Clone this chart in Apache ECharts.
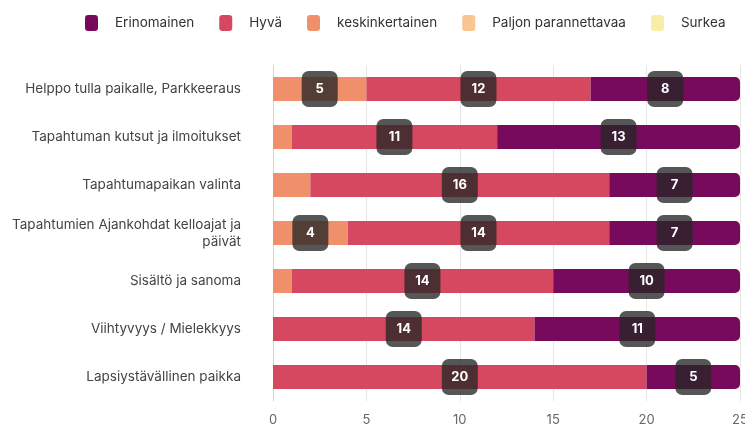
<!DOCTYPE html>
<html>
<head>
<meta charset="utf-8">
<script src="https://cdn.jsdelivr.net/npm/echarts@6/dist/echarts.min.js"></script>
<style>
  html, body { margin: 0; padding: 0; background: #fff; }
  #chart-container { width: 745px; height: 426px; }
</style>
</head>
<body>
<div id="chart-container"></div>
<script>
var dom = document.getElementById('chart-container');
var myChart = echarts.init(dom, null, { renderer: 'canvas' });

var categories = [
  'Helppo tulla paikalle, Parkkeeraus',
  'Tapahtuman kutsut ja ilmoitukset',
  'Tapahtumapaikan valinta',
  'Tapahtumien Ajankohdat kelloajat ja\npäivät',
  'Sisältö ja sanoma',
  'Viihtyvyys / Mielekkyys',
  'Lapsiystävällinen paikka'
];
var surkea = [0, 0, 0, 0, 0, 0, 0];
var paljonParannettavaa = [0, 0, 0, 0, 0, 0, 0];
var keskinkertainen = [5, 1, 2, 4, 1, 0, 0];
var hyva = [12, 11, 16, 14, 14, 14, 20];
var erinomainen = [8, 13, 7, 7, 10, 11, 5];
var xTicks = [0, 5, 10, 15, 20, 25];

var seriesDefs = [
  { name: 'Surkea', data: surkea, color: '#f7eda4' },
  { name: 'Paljon parannettavaa', data: paljonParannettavaa, color: '#f9c590' },
  { name: 'keskinkertainen', data: keskinkertainen, color: '#f0906b' },
  { name: 'Hyvä', data: hyva, color: '#d6485f' },
  { name: 'Erinomainen', data: erinomainen, color: '#780a5c' }
];

var series = seriesDefs.map(function (s, idx) {
  var last = idx === seriesDefs.length - 1;
  return {
    name: s.name,
    type: 'bar',
    stack: 'total',
    barWidth: 24,
    itemStyle: {
      color: s.color,
      borderRadius: last ? [0, 5, 5, 0] : 0
    },
    emphasis: { disabled: true },
    label: {
      show: true,
      position: 'inside',
      color: '#fff',
      fontFamily: 'Inter',
      fontWeight: 'bold',
      fontSize: 13,
      backgroundColor: 'rgba(38,38,38,0.78)',
      borderRadius: 7,
      width: 20,
      height: 20,
      lineHeight: 20,
      align: 'center',
      verticalAlign: 'middle',
      padding: [8, 8]
    },
    data: s.data.map(function (v) {
      return { value: v, label: { show: v >= 3 } };
    })
  };
});

var option = {
  textStyle: { fontFamily: 'Inter' },
  legend: {
    data: ['Erinomainen', 'Hyvä', 'keskinkertainen', 'Paljon parannettavaa', 'Surkea'],
    left: 80,
    top: 10,
    icon: 'roundRect',
    itemWidth: 13,
    itemHeight: 16,
    itemGap: 25,
    textStyle: { color: '#333', fontSize: 13.5, fontFamily: 'Inter', padding: [0, 0, 0, 12] }
  },
  grid: { left: 273, right: 5, top: 65, bottom: 25, outerBoundsMode: 'none', containLabel: false },
  xAxis: {
    type: 'value',
    min: xTicks[0],
    max: xTicks[xTicks.length - 1],
    interval: 5,
    axisLine: { show: false },
    axisTick: { show: false },
    axisLabel: { color: '#666', fontSize: 13, margin: 13 },
    splitLine: { lineStyle: { color: '#e6e6e6' } }
  },
  yAxis: {
    type: 'category',
    inverse: true,
    data: categories,
    axisLine: { show: true, lineStyle: { color: '#ccd6eb' } },
    axisTick: { show: false },
    axisLabel: {
      color: '#444',
      fontSize: 13.5,
      margin: 32,
      lineHeight: 17
    }
  },
  series: series
};

myChart.setOption(option);
window.addEventListener('resize', myChart.resize);
</script>
</body>
</html>
